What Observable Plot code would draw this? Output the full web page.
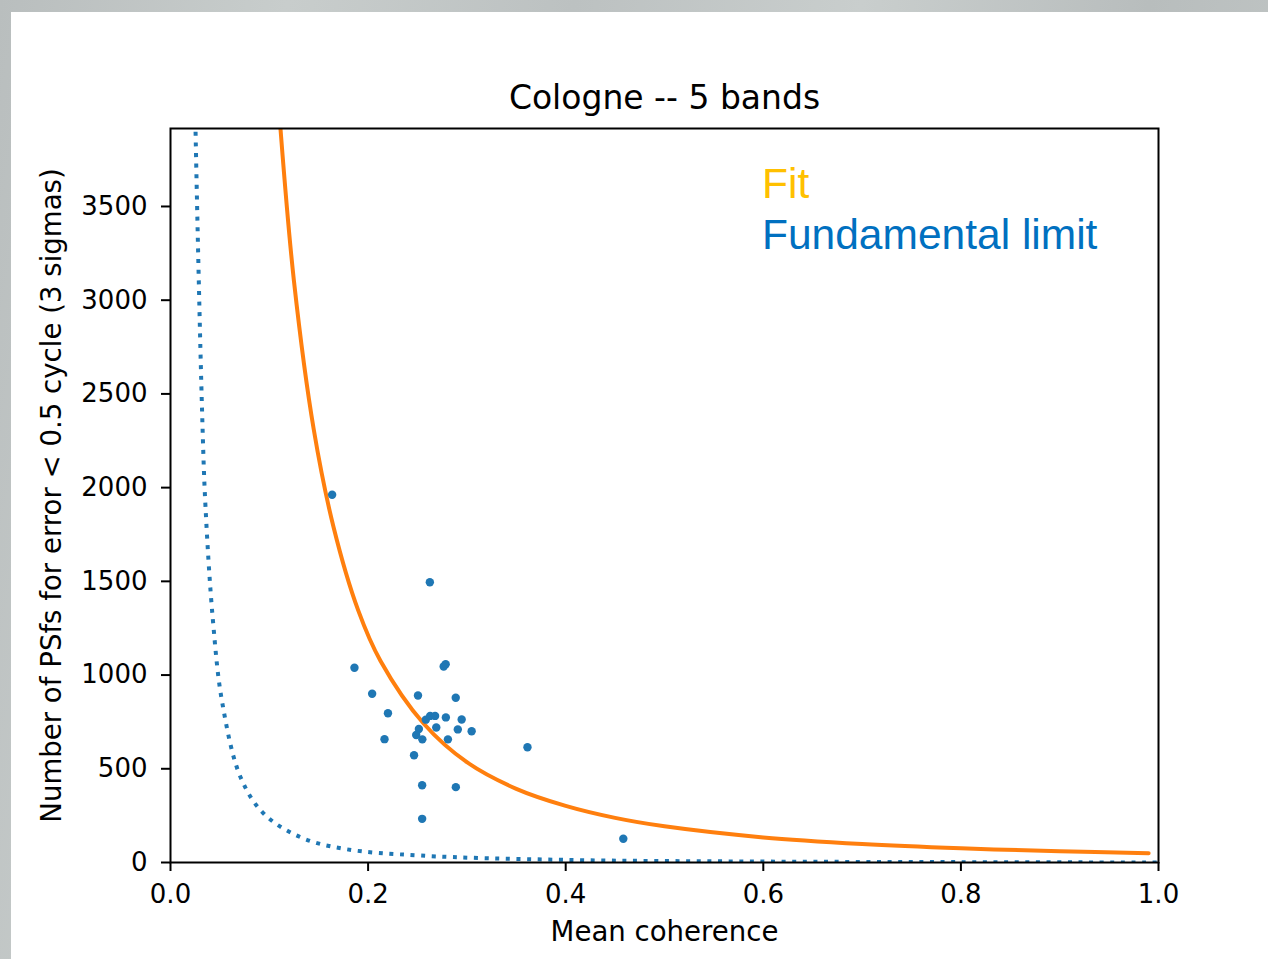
<!DOCTYPE html>
<html><head><meta charset="utf-8">
<script src="https://cdn.jsdelivr.net/npm/d3@7"></script>
<script src="https://cdn.jsdelivr.net/npm/@observablehq/plot@0.6"></script>
<style>
html,body{margin:0;padding:0;}
body{width:1268px;height:959px;position:relative;overflow:hidden;
  background:linear-gradient(100deg,#b9bebe 0%,#c8cdcc 20%,#bcc1c1 40%,#c9cecd 60%,#b8bdbd 80%,#c4c9c8 100%);}
#panel{position:absolute;left:11px;top:12px;right:0;bottom:0;background:#fff;}
#chart{position:absolute;left:0;top:0;}
.note{position:absolute;font-family:"Liberation Sans",Arial,sans-serif;font-size:42.5px;line-height:1;white-space:nowrap;}
</style></head><body>
<div id="panel"></div>
<div id="chart"></div>
<div class="note" style="left:762px;top:163px;color:#ffc000">Fit</div>
<div class="note" style="left:762px;top:214px;color:#0070c0">Fundamental limit</div>
<script>
// Scatter points: mean coherence vs number of PSfs
const cohPoints = [0.1636,0.2625,0.1862,0.2765,0.2785,0.2041,0.2505,0.2887,0.2201,0.2166,0.2584,0.2628,0.2678,0.2787,0.2947,0.2690,0.2908,0.3048,0.2514,0.2487,0.2549,0.2808,0.2465,0.3613,0.2547,0.2888,0.2547,0.4583];
const psfPoints = [1962,1495,1039,1046,1058,900,891,879,796,658,762,782,782,774,763,720,710,700,712,680,657,657,572,615,412,402,233,127];

// Fit curve
const fitX = [0.105,0.1113,0.125,0.145,0.165,0.19,0.2126,0.2564,0.30,0.35,0.40,0.45,0.50,0.60,0.70,0.80,0.90,0.99];
const fitY = [4400,3916,3100,2310,1790,1345,1075,740,535,393,302,238,193,134,99,76,60,50];

// Fundamental limit curve
const limX = [0.024,0.0253,0.032,0.0354,0.0428,0.0523,0.0709,0.0945,0.1316,0.1754,0.253,0.398,0.6,0.8,1.0];
const limY = [4350,3916,2400,1900,1300,855,455,260,135,73,37,14,5,2,0];

const xTicks = [0,0.2,0.4,0.6,0.8,1.0];
const yTicks = [0,500,1000,1500,2000,2500,3000,3500];

const titleText = "Cologne -- 5 bands";
const xLabel = "Mean coherence";
const yLabel = "Number of PSfs for error < 0.5 cycle (3 sigmas)";

const pts = cohPoints.map((c,i)=>({x:c,y:psfPoints[i]}));
const fit = fitX.map((c,i)=>({x:c,y:fitY[i]}));
const lim = limX.map((c,i)=>({x:c,y:limY[i]}));

const chart = Plot.plot({
  width:1268, height:959,
  marginLeft:170, marginRight:110, marginTop:128, marginBottom:97,
  style:{fontFamily:"DejaVu Sans", fontSize:"26px", color:"black", background:"transparent", overflow:"visible"},
  x:{domain:[0,1]},
  y:{domain:[0,3916]},
  marks:[
    Plot.axisX({ticks:xTicks, tickFormat:d3.format(".1f"), tickSize:9, tickPadding:13, strokeWidth:2, label:null}),
    Plot.axisY({ticks:yTicks, tickFormat:d=>String(d), tickSize:9, tickPadding:14, strokeWidth:2, label:null}),
    Plot.line(lim, {x:"x", y:"y", stroke:"#1f77b4", strokeWidth:4, strokeDasharray:"4,6.6", strokeLinecap:"butt", curve:"catmull-rom", clip:true}),
    Plot.line(fit, {x:"x", y:"y", stroke:"#ff7f0e", strokeWidth:4, curve:"catmull-rom", clip:true}),
    Plot.dot(pts, {x:"x", y:"y", r:4.2, fill:"#1f77b4"}),
    Plot.frame({stroke:"black", strokeWidth:2}),
    Plot.text([titleText], {text:d=>d, frameAnchor:"top", lineAnchor:"bottom", dy:-20, fontSize:33}),
    Plot.text([xLabel], {text:d=>d, frameAnchor:"bottom", lineAnchor:"bottom", dy:78, fontSize:27.6}),
    Plot.text([yLabel], {text:d=>d, frameAnchor:"left", textAnchor:"middle", lineAnchor:"bottom", rotate:-90, dx:-110, fontSize:27.6})
  ]
});
document.getElementById("chart").appendChild(chart);
</script>
</body></html>
